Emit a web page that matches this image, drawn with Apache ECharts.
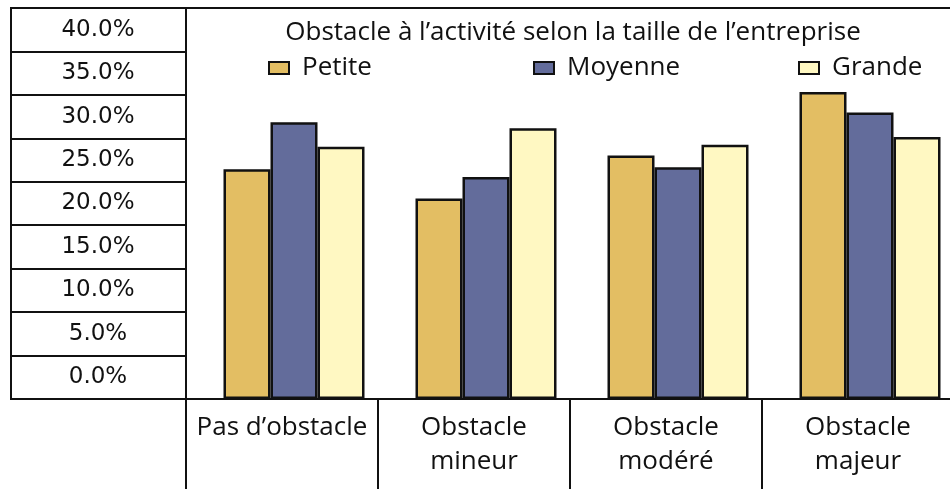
<!DOCTYPE html>
<html>
<head>
<meta charset="utf-8">
<script src="https://cdn.jsdelivr.net/npm/echarts@6/dist/echarts.min.js"></script>
<style>
html,body{margin:0;padding:0;background:#fff;}
#chart{width:950px;height:489px;}
</style>
</head>
<body>
<div id="chart"></div>
<script>
const titleText = 'Obstacle à l’activité selon la taille de l’entreprise';
const categories = ['Pas d’obstacle', 'Obstacle\nmineur', 'Obstacle\nmodéré', 'Obstacle\nmajeur'];
const seriesNames = ['Petite', 'Moyenne', 'Grande'];
const petite = [23.5, 20.5, 24.9, 31.4];
const moyenne = [28.3, 22.7, 23.7, 29.3];
const grande = [25.8, 27.7, 26.0, 26.8];
const yTickLabels = ['0.0%', '5.0%', '10.0%', '15.0%', '20.0%', '25.0%', '30.0%', '35.0%', '40.0%'];
const colors = ['#E3BE63', '#636C9B', '#FFF8C2'];

const FONT = '"Open Sans", "Noto Sans", sans-serif';
const TICKFONT = '"DejaVu Sans", "Open Sans", sans-serif';
const INK = '#111111';

const chart = echarts.init(document.getElementById('chart'), null, {renderer: 'canvas'});

const values = [petite, moyenne, grande];

const option = {
  animation: false,
  backgroundColor: '#ffffff',
  textStyle: {fontFamily: FONT, color: INK},
  title: {
    text: titleText,
    left: 573,
    textAlign: 'center',
    top: 18,
    padding: 0,
    textStyle: {fontFamily: FONT, fontSize: 26, fontWeight: 'normal', color: INK, lineHeight: 30}
  },
  legend: {
    left: 268,
    top: 53,
    width: 700,
    padding: 0,
    itemWidth: 20,
    itemHeight: 12,
    itemGap: 5,
    icon: 'rect',
    data: [
      {name: seriesNames[0]},
      {name: seriesNames[1]},
      {name: seriesNames[2], textStyle: {width: 100}}
    ],
    textStyle: {fontFamily: FONT, fontSize: 26, color: INK, width: 226, padding: [0, 0, 0, 8], lineHeight: 30}
  },
  grid: [
    {left: 198, width: 768, top: 8, bottom: 90, outerBoundsMode: 'none', containLabel: false},
    {left: 186, width: 768, top: 8, bottom: 90, outerBoundsMode: 'none', containLabel: false, show: true, borderColor: INK, borderWidth: 2, backgroundColor: 'transparent'},
    {left: 11, width: 175, top: 8, bottom: 90, outerBoundsMode: 'none', containLabel: false, show: true, borderColor: INK, borderWidth: 2, backgroundColor: 'transparent'}
  ],
  xAxis: [
    {gridIndex: 0, type: 'category', data: categories, show: false},
    {
      gridIndex: 1, type: 'category', data: categories, position: 'bottom',
      axisLine: {show: true, lineStyle: {color: INK, width: 2}},
      axisTick: {show: true, length: 92, lineStyle: {color: INK, width: 2}},
      axisLabel: {interval: 0, margin: 12, fontFamily: FONT, fontSize: 26, lineHeight: 34, color: INK, verticalAlign: 'top'},
      splitLine: {show: false}
    },
    {gridIndex: 2, type: 'value', show: false}
  ],
  yAxis: [
    {gridIndex: 0, type: 'value', min: 0, max: 40, show: false},
    {gridIndex: 1, type: 'value', min: 0, max: 40, show: false},
    {
      gridIndex: 2, type: 'category', data: yTickLabels,
      axisLine: {show: true, lineStyle: {color: INK, width: 2}},
      axisTick: {show: false},
      axisLabel: {inside: true, margin: 87, align: 'center', fontFamily: TICKFONT, fontSize: 23, color: INK},
      splitLine: {show: true, lineStyle: {color: INK, width: 2}}
    }
  ],
  series: seriesNames.map((name, i) => ({
    name: name,
    type: 'bar',
    xAxisIndex: 0,
    yAxisIndex: 0,
    data: values[i],
    barWidth: 47,
    barGap: '0%',
    itemStyle: {color: colors[i], borderColor: INK, borderWidth: 2.5}
  }))
};

chart.setOption(option);
</script>
</body>
</html>
